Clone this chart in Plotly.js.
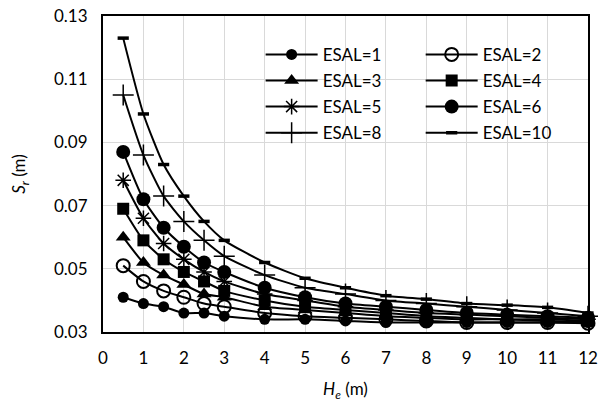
<!DOCTYPE html>
<html>
<head>
<meta charset="utf-8">
<script src="https://cdn.plot.ly/plotly-3.0.1.min.js"></script>
<style>html,body{margin:0;padding:0;background:#fff;}#chart{width:598px;height:411px;}</style>
</head>
<body>
<div id="chart"></div>
<script>
const he = [0.5, 1, 1.5, 2, 2.5, 3, 4, 5, 6, 7, 8, 9, 10, 11, 12];
const esal1  = [0.041, 0.039, 0.038, 0.036, 0.036, 0.035, 0.034, 0.034, 0.0335, 0.033, 0.033, 0.033, 0.033, 0.033, 0.033];
const esal2  = [0.051, 0.046, 0.043, 0.041, 0.039, 0.038, 0.036, 0.035, 0.0345, 0.034, 0.0335, 0.033, 0.033, 0.033, 0.0328];
const esal3  = [0.060, 0.052, 0.048, 0.045, 0.042, 0.041, 0.038, 0.037, 0.036, 0.035, 0.0345, 0.034, 0.034, 0.0335, 0.0332];
const esal4  = [0.069, 0.059, 0.053, 0.049, 0.046, 0.043, 0.040, 0.038, 0.037, 0.036, 0.035, 0.0345, 0.034, 0.034, 0.0335];
const esal5  = [0.078, 0.066, 0.058, 0.053, 0.049, 0.046, 0.042, 0.040, 0.038, 0.037, 0.036, 0.0355, 0.035, 0.0345, 0.034];
const esal6  = [0.087, 0.072, 0.063, 0.057, 0.052, 0.049, 0.044, 0.041, 0.039, 0.038, 0.037, 0.036, 0.0355, 0.035, 0.0345];
const esal8  = [0.105, 0.086, 0.073, 0.065, 0.059, 0.054, 0.048, 0.044, 0.042, 0.040, 0.039, 0.038, 0.037, 0.036, 0.035];
const esal10 = [0.123, 0.099, 0.083, 0.073, 0.065, 0.059, 0.052, 0.047, 0.044, 0.0415, 0.0404, 0.039, 0.0385, 0.0378, 0.036];
const names = ['ESAL=1','ESAL=2','ESAL=3','ESAL=4','ESAL=5','ESAL=6','ESAL=8','ESAL=10'];
const xTicks = [0,1,2,3,4,5,6,7,8,9,10,11,12];
const yTicks = [0.03,0.05,0.07,0.09,0.11,0.13];

const series = [esal1, esal2, esal3, esal4, esal5, esal6, esal8, esal10];
const markers = [
  {symbol:'circle', size:11, color:'#000', line:{width:0}},
  {symbol:'circle-open', size:13, color:'#000', line:{width:2}},
  {symbol:'triangle-up', size:13, color:'#000', line:{width:0}},
  {symbol:'square', size:12, color:'#000', line:{width:0}},
  {symbol:'asterisk-open', size:13, color:'#000', line:{width:1.5}},
  {symbol:'circle', size:14, color:'#000', line:{width:0}},
  {symbol:'cross-thin-open', size:15, color:'#000', line:{width:1.5}},
  {symbol:'line-ew-open', size:8, color:'#000', line:{width:3.5}}
];
const legendOf = ['legend','legend2','legend','legend2','legend','legend2','legend','legend2'];

const traces = series.map((ys, i) => ({
  x: he, y: ys, name: names[i], type: 'scatter', mode: 'lines+markers',
  line: {color:'#000', width:2, shape:'spline', smoothing:0.6},
  marker: markers[i], cliponaxis:false,
  legend: legendOf[i], legendgroup: 'g'+i
}));

const legendBase = {
  bgcolor:'rgba(0,0,0,0)', borderwidth:0,
  font:{family:'Lato, Carlito, sans-serif', size:17, color:'#000'},
  traceorder:'grouped', tracegroupgap:1, itemsizing:'trace', itemwidth:52,
  yanchor:'top', xanchor:'left'
};

const layout = {
  width:598, height:411,
  margin:{l:103, r:10, t:16, b:79},
  paper_bgcolor:'#fff', plot_bgcolor:'#fff',
  font:{family:'Lato, Carlito, sans-serif', size:17, color:'#000'},
  showlegend:true,
  legend: Object.assign({}, legendBase, {x:0.325, y:0.934}),
  legend2: Object.assign({}, legendBase, {x:0.655, y:0.934}),
  xaxis:{
    range:[0,12], tickvals:xTicks, ticktext:xTicks.map(String),
    showgrid:true, gridcolor:'#d9d9d9', gridwidth:1,
    showline:true, linecolor:'#000', linewidth:2, mirror:true,
    ticks:'', zeroline:false, ticklabelstandoff:10,
    tickfont:{size:17},
    title:{text:'<i>H<sub>e</sub></i> (m)', font:{size:17}, standoff:16}
  },
  yaxis:{
    range:[0.03,0.13], tickvals:yTicks, ticktext:yTicks.map(v=>v.toFixed(2)),
    showgrid:true, gridcolor:'#d9d9d9', gridwidth:1,
    showline:true, linecolor:'#000', linewidth:2, mirror:true,
    ticks:'', zeroline:false, ticklabelstandoff:10,
    tickfont:{size:17},
    title:{text:'<i>S<sub>r</sub></i> (m)', font:{size:17}, standoff:24}
  }
};

Plotly.newPlot('chart', traces, layout, {staticPlot:true, displayModeBar:false});
</script>
</body>
</html>
